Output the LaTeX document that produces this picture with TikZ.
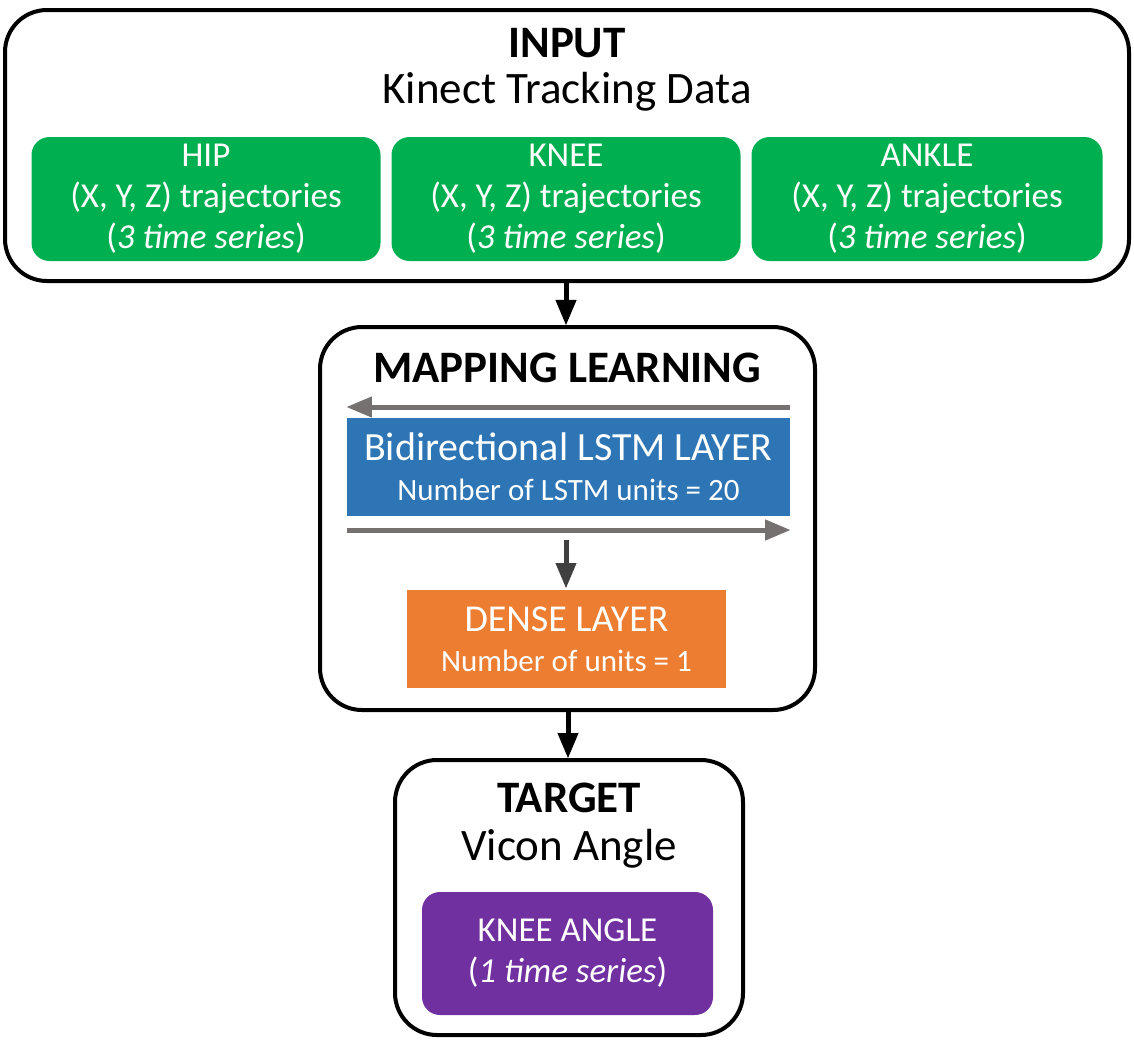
\documentclass[tikz,border=0pt]{standalone}
\usepackage{fontspec}
\setmainfont{Carlito}
\usepackage{tikz}
\usetikzlibrary{arrows,positioning,calc}
\definecolor{inpgreen}{HTML}{00B050}
\definecolor{lstmblue}{HTML}{2E75B6}
\definecolor{denseorange}{HTML}{ED7D31}
\definecolor{tgtpurple}{HTML}{7030A0}
\definecolor{flowgray}{HTML}{767171}
\newcommand{\bigfont}{\fontsize{45}{54}\selectfont}
\newcommand{\midfont}{\fontsize{35}{41}\selectfont}
\newcommand{\smallfont}{\fontsize{31}{36}\selectfont}
\tikzstyle{stage}=[draw,line width=4pt,rounded corners=42pt,inner sep=0pt]
\tikzstyle{series}=[rounded corners=18pt,text=white,align=center,inner sep=0pt,font=\midfont]
\tikzstyle{layer}=[text=white,align=center,inner sep=0pt,font=\smallfont]
\tikzstyle{title}=[anchor=base,inner sep=0pt,font=\bigfont]
\tikzstyle{flow}=[line width=5pt,-triangle 45]
\tikzstyle{dirflow}=[line width=5pt,flowgray,-triangle 45]

\begin{document}
\begin{tikzpicture}[x=1pt,y=-1pt]
      \useasboundingbox (0,0) rectangle (1134,1039);
      % three stages
      \node[stage,minimum width=1124pt,minimum height=271pt] at (567,145.5) (input) {};
      \node[stage,minimum width=495pt,minimum height=383pt] at (567.5,518.5) (mapping) {};
      \node[stage,minimum width=348pt,minimum height=275pt] at (569,897.5) (target) {};
      % input stage
      \node[title] at (567,57) (intitle) {\textbf{INPUT}};
      \node[title] at (567,103) (insub) {Kinect Tracking Data};
      \node[series,fill=inpgreen,minimum width=349pt,minimum height=124pt] at (206,199) (hip)
            {HIP\\(X, Y, Z) trajectories\\(\textit{3 time series})};
      \node[series,fill=inpgreen,minimum width=349pt,minimum height=124pt] at (566,199) (knee)
            {KNEE\\(X, Y, Z) trajectories\\(\textit{3 time series})};
      \node[series,fill=inpgreen,minimum width=351pt,minimum height=124pt] at (927,199) (ankle)
            {ANKLE\\(X, Y, Z) trajectories\\(\textit{3 time series})};
      % mapping stage
      \node[title] at (567,382) (maptitle) {\textbf{MAPPING LEARNING}};
      \node[layer,fill=lstmblue,minimum width=443pt,minimum height=98pt] at (568.5,467) (lstm)
            {{\fontsize{40}{46}\selectfont Bidirectional LSTM LAYER}\\[4pt]Number of LSTM units = 20};
      \node[layer,fill=denseorange,minimum width=319pt,minimum height=98pt] at (566.5,639) (dense)
            {{\fontsize{38}{46}\selectfont DENSE LAYER}\\[4pt]Number of units = 1};
      \coordinate (bwd) at (lstm.north east |- 0,407);
      \coordinate (bwdend) at (lstm.north west |- 0,407);
      \coordinate (fwd) at (lstm.south west |- 0,530);
      \coordinate (fwdend) at (lstm.south east |- 0,530);
      \draw[dirflow] (bwd) -- (bwdend);
      \draw[dirflow] (fwd) -- (fwdend);
      \draw[line width=5pt,draw=black!75,-triangle 45] (566,540) -- (566,588);
      % target stage
      \node[title] at (569,812) (tgttitle) {\textbf{TARGET}};
      \node[title] at (569,860) (tgtsub) {Vicon Angle};
      \node[series,fill=tgtpurple,minimum width=291pt,minimum height=123pt] at (567.5,953.5) (angle)
            {KNEE ANGLE\\(\textit{1 time series})};
      % stage links
      \draw[flow] (input.south -| 566,0) -- (mapping.north -| 566,0);
      \draw[flow] (mapping.south -| 568,0) -- (target.north -| 568,0);
\end{tikzpicture}
\end{document}
